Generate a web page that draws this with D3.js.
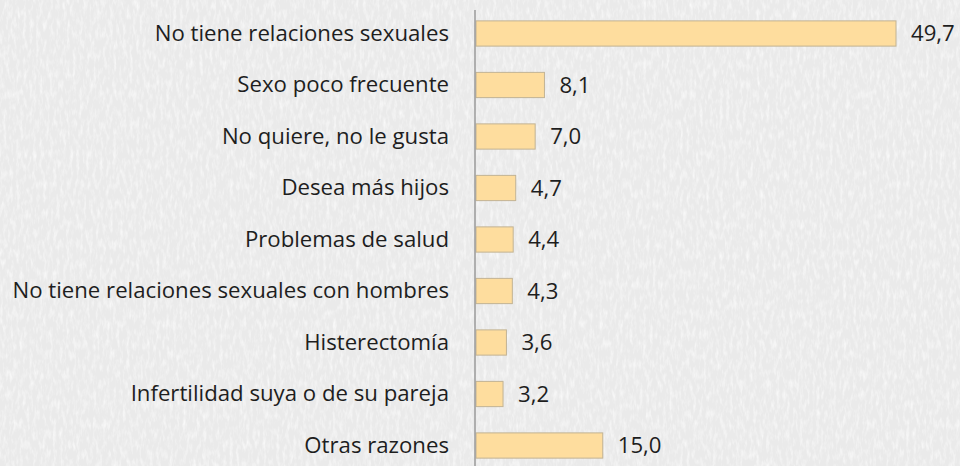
<!DOCTYPE html>
<html>
<head>
<meta charset="utf-8">
<script src="https://cdn.jsdelivr.net/npm/d3@7"></script>
<style>
  html, body { margin: 0; padding: 0; background: #ededed; }
  svg { display: block; }
</style>
</head>
<body>
<svg id="chart" width="960" height="466"></svg>
<script>
// Razones declaradas (porcentaje)
const categories = [
  "No tiene relaciones sexuales",
  "Sexo poco frecuente",
  "No quiere, no le gusta",
  "Desea más hijos",
  "Problemas de salud",
  "No tiene relaciones sexuales con hombres",
  "Histerectomía",
  "Infertilidad suya o de su pareja",
  "Otras razones"
];
const values = [49.7, 8.1, 7.0, 4.7, 4.4, 4.3, 3.6, 3.2, 15.0];
const valueLabels = ["49,7", "8,1", "7,0", "4,7", "4,4", "4,3", "3,6", "3,2", "15,0"];

const W = 960, H = 466;
const margin = { top: 8, right: 64, bottom: 0, left: 476 };

const svg = d3.select("#chart");

// paper-like background texture
const defs = svg.append("defs");
const f = defs.append("filter").attr("id", "paper")
  .attr("x", 0).attr("y", 0).attr("width", "100%").attr("height", "100%");
f.append("feTurbulence").attr("type", "fractalNoise")
  .attr("baseFrequency", "0.3 0.1").attr("numOctaves", 3).attr("seed", 4).attr("result", "noise");
f.append("feColorMatrix").attr("in", "noise").attr("type", "matrix")
  .attr("values", "0 0 0 0 1  0 0 0 0 1  0 0 0 0 1  0 0 0 1.4 -0.6").attr("result", "spots");
f.append("feComposite").attr("in", "spots").attr("in2", "SourceGraphic").attr("operator", "in");

svg.append("rect").attr("width", W).attr("height", H).attr("fill", "#eaeaea");
svg.append("rect").attr("width", W).attr("height", H).attr("fill", "#eaeaea").attr("filter", "url(#paper)");

const x = d3.scaleLinear().domain([0, 49.7]).range([margin.left, 896]);
const y = d3.scaleBand().domain(categories).range([margin.top, H + 5]).paddingInner(0.51).paddingOuter(0.25);

const font = "'Open Sans', sans-serif";
const fontSize = 22.2;

// bars
svg.append("g").selectAll("rect").data(values).join("rect")
  .attr("x", x(0))
  .attr("y", (d, i) => y(categories[i]))
  .attr("width", d => x(d) - x(0))
  .attr("height", y.bandwidth())
  .attr("fill", "#fedd9e")
  .attr("stroke", "#c2b394")
  .attr("stroke-width", 1);

// category axis
const yAxis = d3.axisLeft(y).tickSize(0).tickPadding(26);
const ga = svg.append("g").attr("transform", `translate(${margin.left - 1},0)`).call(yAxis);
ga.select(".domain").remove();
ga.selectAll("text").attr("font-family", font).attr("font-size", fontSize).attr("fill", "#1e1e1e");

svg.append("line")
  .attr("x1", margin.left - 1).attr("x2", margin.left - 1)
  .attr("y1", 10).attr("y2", H)
  .attr("stroke", "#9a9a9a").attr("stroke-width", 1.5);

// value labels
svg.append("g").selectAll("text").data(values).join("text")
  .attr("x", d => x(d) + 15)
  .attr("y", (d, i) => y(categories[i]) + y.bandwidth() / 2)
  .attr("dy", "0.35em")
  .attr("font-family", font).attr("font-size", fontSize).attr("fill", "#1e1e1e")
  .text((d, i) => valueLabels[i]);
</script>
</body>
</html>
